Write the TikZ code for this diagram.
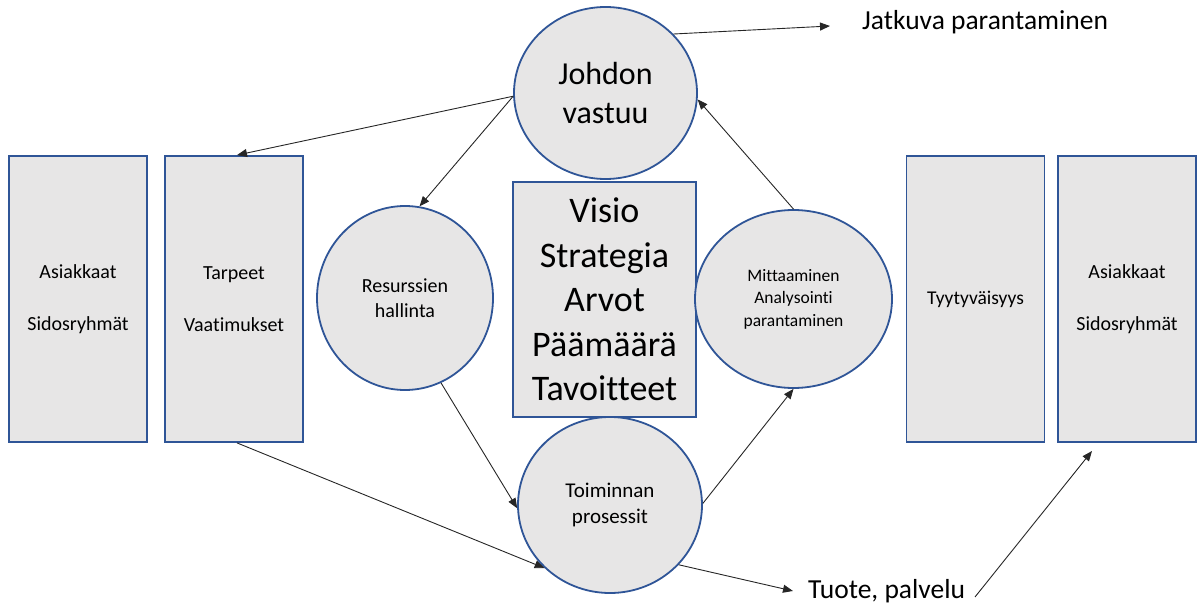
\documentclass[tikz,border=0pt]{standalone}
\usepackage{fontspec}
\setmainfont{Carlito}[Ligatures={NoCommon}]
\usetikzlibrary{shapes.geometric,arrows.meta}
\definecolor{boxfill}{RGB}{231,230,230}
\definecolor{boxline}{RGB}{47,85,151}
\begin{document}
\begin{tikzpicture}[x=1pt,y=-1pt,
  panel/.style={draw=boxline,fill=boxfill,line width=1.8pt,inner sep=0pt,align=center},
  rectbox/.style={panel,rectangle,minimum width=138pt,minimum height=286pt,font=\fontsize{20}{24.4}\selectfont},
  oval/.style={panel,ellipse},
  conn/.style={draw=black!85,line width=0.9pt,-{Triangle[length=10pt,width=8pt]}}
]
\useasboundingbox (0,0) rectangle (1197,615);

% side boxes
\node[rectbox] (B1) at (78,299) {Asiakkaat\\[27.6pt]Sidosryhmät};
\node[rectbox] (B2) at (234,299) {Tarpeet\\[27.6pt]Vaatimukset};
\node[rectbox,font=\fontsize{19.5}{24}\selectfont] (B3) at (975.5,299) {Tyytyväisyys};
\node[rectbox] (B4) at (1127,299) {Asiakkaat\\[27.6pt]Sidosryhmät};

% centre box
\node[panel,rectangle,minimum width=183pt,minimum height=235pt,
  font=\fontsize{36}{44.5}\selectfont] (C) at (604.5,299.5)
  {Visio\\Strategia\\Arvot\\Päämäärä\\Tavoitteet};

% ellipses
\node[oval,minimum width=183pt,minimum height=172pt,font=\fontsize{32}{39}\selectfont]
  (J) at (605.5,93) {\raisebox{-4pt}{Johdon}\\\raisebox{-4pt}{vastuu}};
\node[oval,minimum width=176pt,minimum height=184pt,font=\fontsize{20}{25}\selectfont]
  (R) at (405,298) {Resurssien\\hallinta};
\node[oval,minimum width=197pt,minimum height=178pt,font=\fontsize{17.5}{22.5}\selectfont]
  (M) at (793.5,299) {Mittaaminen\\Analysointi\\parantaminen};
\node[oval,minimum width=184pt,minimum height=176pt,font=\fontsize{21}{26}\selectfont]
  (T) at (610,505) {Toiminnan\\prosessit};

% free texts
\node[anchor=west,inner sep=0pt,font=\fontsize{27.5}{33}\selectfont] (Jat) at (862,22) {Jatkuva parantaminen};
\node[anchor=west,inner sep=0pt,font=\fontsize{27.5}{33}\selectfont] (Tuo) at (808,591) {Tuote, palvelu};
\coordinate (jtip) at (830,26);
\coordinate (ttip) at (793,591);
\coordinate (tstart) at (975,597);
\coordinate (b4tip) at (1092,451);

% connectors
\draw[conn] (J.41.6) -- (jtip);
\draw[conn] (J.182) -- ([xshift=3pt]B2.north);
\draw[conn] (J.182) -- (R.81.8);
\draw[conn] (M.north) -- (J.-4.3);
\draw[conn] (R.-67.2) -- (T.182);
\draw[conn] (T.1) -- (M.south);
\draw[conn] ([xshift=3pt]B2.south) -- (T.224.5);
\draw[conn] (T.-41.6) -- (ttip);
\draw[conn] (tstart) -- (b4tip);
\end{tikzpicture}
\end{document}
